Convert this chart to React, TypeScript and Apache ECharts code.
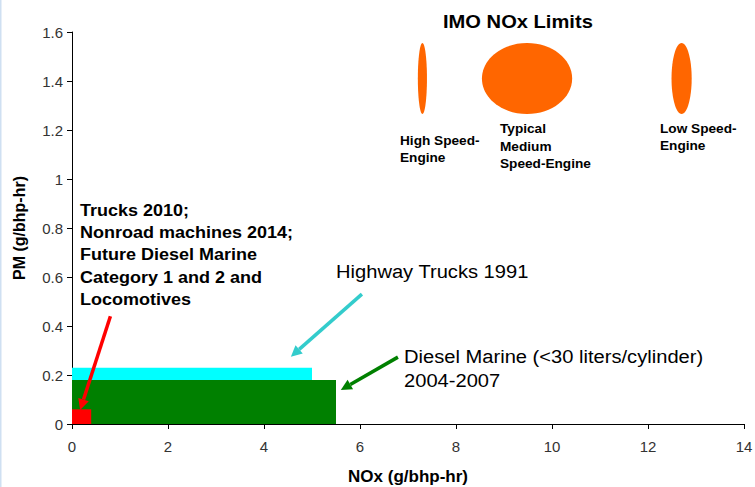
import React, { useEffect, useRef } from "react";
import * as echarts from "echarts";

// ---- Data ----
const xMin = 0;
const xMax = 14;
const xStep = 2;
const yMin = 0;
const yMax = 1.6;
const yStep = 0.2;

const xTitle = "NOx (g/bhp-hr)";
const yTitle = "PM (g/bhp-hr)";

// Regulation boxes (drawn from origin to [NOx, PM])
const boxNames = ["Highway Trucks 1991", "Diesel Marine 2004-2007", "Trucks 2010 / Nonroad 2014"];
const boxNox = [5.0, 5.5, 0.4];
const boxPm = [0.23, 0.18, 0.06];
const boxColors = ["#00FFFF", "#008000", "#FF0000"];

// IMO NOx limits (ellipses)
const imoNames = ["High Speed-Engine", "Typical Medium Speed-Engine", "Low Speed-Engine"];
const imoNoxCenter = [7.3, 9.48, 12.7];
const imoNoxWidth = [0.19, 1.88, 0.42];
const imoPmCenter = [1.41, 1.41, 1.41];
const imoPmHeight = [0.29, 0.29, 0.29];

// Annotation arrows (data coordinates: from -> to)
const arrowFrom = [
  [0.8, 0.44],
  [6.04, 0.53],
  [6.79, 0.273],
];
const arrowTo = [
  [0.17, 0.057],
  [4.56, 0.275],
  [5.6, 0.139],
];
const arrowColors = ["#FF0000", "#33CCCC", "#008000"];

const FONT = "Arial, 'Liberation Sans', sans-serif";

export default function App() {
  const ref = useRef<HTMLDivElement>(null);

  useEffect(() => {
    if (!ref.current) return;
    const chart = echarts.init(ref.current, undefined, { renderer: "svg" });

    const boxData = boxNox.map((n, i) => [n, boxPm[i], i]);
    const imoData = imoNoxCenter.map((c, i) => [c, imoPmCenter[i], imoNoxWidth[i], imoPmHeight[i]]);
    const arrowData = arrowFrom.map((f, i) => [f[0], f[1], arrowTo[i][0], arrowTo[i][1], i]);

    const option: any = {
      animation: false,
      backgroundColor: "#ffffff",
      grid: { left: 72, right: 11, top: 32, bottom: 63, containLabel: false, outerBoundsMode: "none" },
      xAxis: {
        type: "value",
        min: xMin,
        max: xMax,
        interval: xStep,
        name: xTitle,
        nameLocation: "middle",
        nameGap: 44,
        nameTextStyle: { fontFamily: FONT, fontWeight: "bold", fontSize: 17, color: "#000" },
        axisLine: { show: true, lineStyle: { color: "#000", width: 1 } },
        axisTick: { show: true, length: 5, lineStyle: { color: "#000" } },
        axisLabel: { fontFamily: FONT, fontSize: 15, color: "#333", margin: 15 },
        splitLine: { show: false },
      },
      yAxis: {
        type: "value",
        min: yMin,
        max: yMax,
        interval: yStep,
        name: yTitle,
        nameLocation: "middle",
        nameGap: 45,
        nameRotate: 90,
        nameTextStyle: { fontFamily: FONT, fontWeight: "bold", fontSize: 16, color: "#000" },
        axisLine: { show: true, lineStyle: { color: "#000", width: 1 } },
        axisTick: { show: true, length: 5, lineStyle: { color: "#000" } },
        axisLabel: { fontFamily: FONT, fontSize: 15, color: "#333", margin: 9 },
        splitLine: { show: false },
      },
      series: [
        {
          type: "custom",
          name: "Regulations",
          coordinateSystem: "cartesian2d",
          encode: { x: 0, y: 1 },
          data: boxData,
          renderItem: (params: any, api: any) => {
            const origin = api.coord([0, 0]);
            const p = api.coord([api.value(0), api.value(1)]);
            const idx = api.value(2);
            return {
              type: "rect",
              shape: { x: origin[0], y: p[1], width: p[0] - origin[0], height: origin[1] - p[1] },
              style: { fill: boxColors[idx] },
            };
          },
          z: 2,
        },
        {
          type: "custom",
          name: "IMO NOx Limits",
          coordinateSystem: "cartesian2d",
          encode: { x: 0, y: 1 },
          data: imoData,
          renderItem: (params: any, api: any) => {
            const c = api.coord([api.value(0), api.value(1)]);
            const s = api.size([api.value(2), api.value(3)]);
            return {
              type: "ellipse",
              shape: { cx: c[0], cy: c[1], rx: s[0] / 2, ry: s[1] / 2 },
              style: { fill: "#FF6600" },
            };
          },
          z: 2,
        },
        {
          type: "custom",
          name: "arrows",
          coordinateSystem: "cartesian2d",
          encode: { x: [0, 2], y: [1, 3] },
          data: arrowData,
          renderItem: (params: any, api: any) => {
            const a = api.coord([api.value(0), api.value(1)]);
            const b = api.coord([api.value(2), api.value(3)]);
            const color = arrowColors[api.value(4)];
            const dx = b[0] - a[0];
            const dy = b[1] - a[1];
            const len = Math.sqrt(dx * dx + dy * dy);
            const ux = dx / len;
            const uy = dy / len;
            const headLen = 11;
            const headW = 5.5;
            const base = [b[0] - ux * headLen, b[1] - uy * headLen];
            const px = -uy;
            const py = ux;
            return {
              type: "group",
              children: [
                {
                  type: "line",
                  shape: { x1: a[0], y1: a[1], x2: base[0], y2: base[1] },
                  style: { stroke: color, lineWidth: 3.5 },
                },
                {
                  type: "polygon",
                  shape: {
                    points: [
                      [b[0], b[1]],
                      [base[0] + px * headW, base[1] + py * headW],
                      [base[0] - px * headW, base[1] - py * headW],
                    ],
                  },
                  style: { fill: color },
                },
              ],
            };
          },
          z: 5,
        },
      ],
      graphic: [
        { type: "rect", left: 0, top: 0, shape: { width: 1.5, height: 487 }, style: { fill: "#cfe0f2" } },
        {
          type: "text",
          left: 443,
          top: 12,
          scaleX: 1.06,
          style: { text: "IMO NOx Limits", font: `bold 19px ${FONT}`, fill: "#000" },
        },
        {
          type: "text",
          left: 400,
          top: 132,
          scaleX: 1.05,
          style: { text: "High Speed-\nEngine", font: `bold 13px ${FONT}`, fill: "#000", lineHeight: 17 },
        },
        {
          type: "text",
          left: 500,
          top: 120,
          scaleX: 1.05,
          style: { text: "Typical\nMedium\nSpeed-Engine", font: `bold 13px ${FONT}`, fill: "#000", lineHeight: 17.5 },
        },
        {
          type: "text",
          left: 660,
          top: 120,
          scaleX: 1.05,
          style: { text: "Low Speed-\nEngine", font: `bold 13px ${FONT}`, fill: "#000", lineHeight: 17 },
        },
        {
          type: "text",
          left: 80,
          top: 199,
          scaleX: 1.06,
          style: {
            text: "Trucks 2010;\nNonroad machines 2014;\nFuture Diesel Marine\nCategory 1 and 2 and\nLocomotives",
            font: `bold 17px ${FONT}`,
            fill: "#000",
            lineHeight: 22.2,
          },
        },
        {
          type: "text",
          left: 336,
          top: 262,
          scaleX: 1.06,
          style: { text: "Highway Trucks 1991", font: `19px ${FONT}`, fill: "#000" },
        },
        {
          type: "text",
          left: 404,
          top: 344,
          scaleX: 1.06,
          style: {
            text: "Diesel Marine (<30 liters/cylinder)\n2004-2007",
            font: `19px ${FONT}`,
            fill: "#000",
            lineHeight: 24,
          },
        },
      ],
    };

    chart.setOption(option);
    return () => chart.dispose();
  }, []);

  return (
    <div
      ref={ref}
      style={{ position: "absolute", left: 0, top: 0, width: 755, height: 487, background: "#fff" }}
    />
  );
}
